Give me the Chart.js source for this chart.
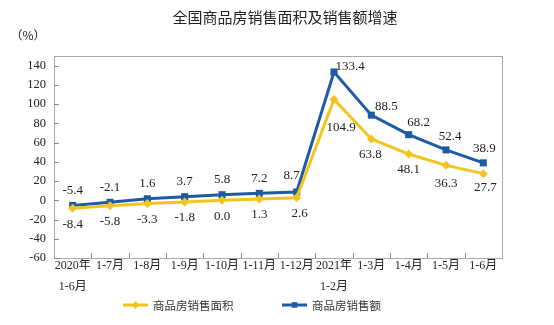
<!DOCTYPE html>
<html>
<head>
<meta charset="utf-8">
<script src="https://cdn.jsdelivr.net/npm/chart.js@4"></script>
<style>
  html, body { margin: 0; padding: 0; background: #fff; }
  #wrap { width: 554px; height: 325px; }
</style>
</head>
<body>
<div id="wrap"><canvas id="chart" width="554" height="325"></canvas></div>
<script>
var categories = [
    ["2020年", "1-6月"], "1-7月", "1-8月", "1-9月", "1-10月", "1-11月",
    "1-12月", ["2021年", "1-2月"], "1-3月", "1-4月", "1-5月", "1-6月"
];
var areaGrowth = [-8.4, -5.8, -3.3, -1.8, 0.0, 1.3, 2.6, 104.9, 63.8, 48.1, 36.3, 27.7];
var salesGrowth = [-5.4, -2.1, 1.6, 3.7, 5.8, 7.2, 8.7, 133.4, 88.5, 68.2, 52.4, 38.9];
var seriesNames = ["商品房销售面积", "商品房销售额"];
var yTicks = [-60, -40, -20, 0, 20, 40, 60, 80, 100, 120, 140];

var YELLOW = "#f3c420";
var BLUE = "#1f5ba5";
var SERIF = "'Liberation Serif', 'Noto Sans CJK SC', serif";
var CJK = "'Noto Sans CJK SC', sans-serif";

// label nudges (dx, dy) where the default above/below spot would collide with a line
var labelShift = [
    { 6: [3, 16], 7: [7, 28], 8: [-1, 16], 10: [0, 18], 11: [2, 14] },
    { 6: [-5, -16], 7: [16, -5], 8: [15, -9], 9: [10, -12], 10: [4, -13], 11: [1, -14] },
];

// frame, inner tick marks, title, unit, value labels and legend
var decorations = {
    id: "decorations",
    afterDraw: function (chart) {
        var ctx = chart.ctx;
        var a = chart.chartArea;
        var y = chart.scales.y;
        ctx.save();

        ctx.strokeStyle = "#a8a8a8";
        ctx.lineWidth = 1;
        ctx.strokeRect(Math.round(a.left) + 0.5, Math.round(a.top) + 0.5,
            Math.round(a.right - a.left), Math.round(a.bottom - a.top));

        ctx.strokeStyle = "#8a8a8a";
        ctx.beginPath();
        yTicks.forEach(function (v) {
            var py = Math.round(y.getPixelForValue(v)) + 0.5;
            ctx.moveTo(a.left, py);
            ctx.lineTo(a.left + 5, py);
        });
        var step = (a.right - a.left) / categories.length;
        for (var i = 1; i < categories.length; i++) {
            var px = Math.round(a.left + i * step) + 0.5;
            ctx.moveTo(px, a.bottom);
            ctx.lineTo(px, a.bottom - 5);
        }
        ctx.stroke();

        ctx.fillStyle = "#222";
        ctx.textAlign = "center";
        ctx.textBaseline = "middle";
        ctx.font = "15px " + CJK;
        ctx.fillText("全国商品房销售面积及销售额增速", 285, 17);
        ctx.font = "12px " + CJK;
        ctx.fillText("（%）", 28, 35);

        // value labels: sales above the line, area below
        ctx.font = "13px " + SERIF;
        chart.data.datasets.forEach(function (ds, di) {
            var meta = chart.getDatasetMeta(di);
            meta.data.forEach(function (pt, i) {
                var d = labelShift[di][i] || [0, di === 0 ? 16 : -15];
                ctx.fillText(ds.data[i].toFixed(1), pt.x + d[0], pt.y + d[1]);
            });
        });

        // legend
        var items = [
            { x: 123, color: YELLOW, style: "rectRot", label: seriesNames[0] },
            { x: 282, color: BLUE, style: "rect", label: seriesNames[1] }
        ];
        var ly = 305;
        ctx.textAlign = "left";
        ctx.font = "11.5px " + CJK;
        items.forEach(function (it) {
            ctx.strokeStyle = it.color;
            ctx.lineWidth = 3;
            ctx.beginPath();
            ctx.moveTo(it.x, ly);
            ctx.lineTo(it.x + 25, ly);
            ctx.stroke();
            ctx.fillStyle = it.color;
            Chart.helpers.drawPoint(ctx, { pointStyle: it.style, radius: 4, borderWidth: 0 },
                it.x + 12.5, ly);
            ctx.fillStyle = "#333";
            ctx.fillText(it.label, it.x + 30, ly + 1);
        });

        ctx.restore();
    }
};

var ctx = document.getElementById("chart").getContext("2d");
var myLineChart = new Chart(ctx, {
    type: "line",
    data: {
        labels: categories,
        datasets: [
            {
                label: seriesNames[0],
                data: areaGrowth,
                borderColor: YELLOW,
                backgroundColor: YELLOW,
                borderWidth: 3,
                pointStyle: "rectRot",
                pointRadius: 4.5,
                pointBorderWidth: 0,
                tension: 0,
            },
            {
                label: seriesNames[1],
                data: salesGrowth,
                borderColor: BLUE,
                backgroundColor: BLUE,
                borderWidth: 3,
                pointStyle: "rect",
                pointRadius: 5,
                pointBorderWidth: 0,
                tension: 0,
            },
        ],
    },
    options: {
        responsive: false,
        animation: false,
        layout: { padding: { top: 56, right: 52, left: 0, bottom: 0 } },
        scales: {
            x: {
                offset: true,
                grid: { display: false, drawTicks: false },
                border: { display: false },
                ticks: {
                    color: "#222",
                    font: { family: SERIF, size: 12, lineHeight: 1.75 },
                    padding: -3,
                    maxRotation: 0,
                    autoSkip: false,
                },
                afterFit: function (scale) { scale.height = 67; },
            },
            y: {
                min: -60,
                max: 150,
                grid: { display: false, drawTicks: false },
                border: { display: false },
                ticks: {
                    color: "#222",
                    padding: 8,
                    font: { family: SERIF, size: 12.5 },
                    autoSkip: false,
                },
                afterBuildTicks: function (scale) {
                    scale.ticks = yTicks.map(function (v) { return { value: v }; });
                },
                afterFit: function (scale) { scale.width = 54; },
            },
        },
        plugins: {
            legend: { display: false },
            tooltip: { enabled: false },
        },
    },
    plugins: [decorations],
});
</script>
</body>
</html>
